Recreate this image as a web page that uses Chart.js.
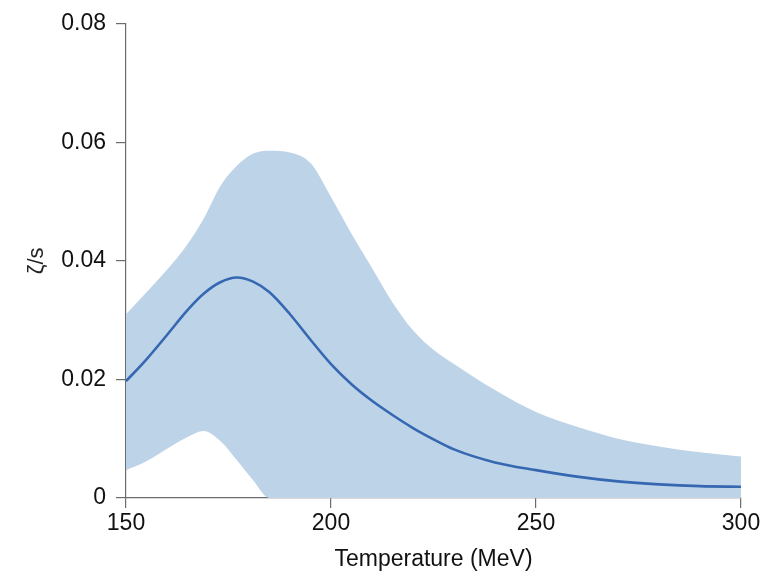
<!DOCTYPE html>
<html>
<head>
<meta charset="utf-8">
<script src="https://cdn.jsdelivr.net/npm/chart.js@4"></script>
<style>
  html, body { margin: 0; padding: 0; background: #fff; }
  #wrap { width: 768px; height: 574px; }
</style>
</head>
<body>
<div id="wrap"><canvas id="zetaChart" width="768" height="574"></canvas></div>
<script>
// Bulk viscosity over entropy vs temperature, with the credible band
const temps = [150, 155, 160, 165, 169, 173, 177, 181, 185, 190, 195, 200, 205, 210, 215, 220, 225, 230, 240, 250, 260, 270, 280, 290, 300];
const median = [0.0197, 0.0234, 0.0275, 0.0317, 0.0345, 0.0364, 0.0372, 0.0365, 0.0347, 0.0310, 0.0267, 0.0226, 0.0192, 0.0164, 0.0140, 0.0118, 0.0099, 0.0082, 0.0060, 0.0047, 0.0036, 0.0028, 0.0023, 0.0020, 0.0019];
const bandHigh = [0.0310, 0.0347, 0.0385, 0.0428, 0.0472, 0.0526, 0.0560, 0.0581, 0.0586, 0.0583, 0.0565, 0.0508, 0.0446, 0.0388, 0.0330, 0.0283, 0.0250, 0.0226, 0.0182, 0.0145, 0.0120, 0.0100, 0.0087, 0.0077, 0.0070];
const bandLow = [0.0047, 0.0062, 0.0083, 0.0103, 0.0113, 0.0096, 0.0064, 0.0030, 0, 0, 0, 0, 0, 0, 0, 0, 0, 0, 0, 0, 0, 0, 0, 0, 0];
const xTicks = [150, 200, 250, 300];
const yTicks = [0, 0.02, 0.04, 0.06, 0.08];

const toPoints = vals => vals.map((v, i) => ({ x: temps[i], y: v }));

const axisColor = '#6b6b6b';
const fontFamily = '"Liberation Sans", Arial, Helvetica, sans-serif';

const ctx = document.getElementById('zetaChart').getContext('2d');
new Chart(ctx, {
  type: 'line',
  data: {
    datasets: [
      {
        // lower edge of the band, only used as fill target
        data: toPoints(bandLow),
        order: 2,
        borderWidth: 0,
        pointRadius: 0,
        fill: false,
        cubicInterpolationMode: 'monotone'
      },
      {
        data: toPoints(bandHigh),
        order: 1,
        borderWidth: 0,
        pointRadius: 0,
        backgroundColor: 'rgb(189, 211, 232)',
        fill: '-1',
        cubicInterpolationMode: 'monotone'
      },
      {
        data: toPoints(median),
        order: 0,
        borderColor: 'rgb(54, 104, 178)',
        borderWidth: 2.6,
        pointRadius: 0,
        fill: false,
        cubicInterpolationMode: 'monotone'
      }
    ]
  },
  options: {
    responsive: false,
    animation: false,
    layout: { padding: { top: 20, right: 27, bottom: 0, left: 0 } },
    plugins: {
      legend: { display: false },
      tooltip: { enabled: false }
    },
    scales: {
      x: {
        type: 'linear',
        min: 150,
        max: 300,
        afterBuildTicks: s => { s.ticks = xTicks.map(v => ({ value: v })); },
        afterFit: s => { s.height = 76; },
        grid: { drawOnChartArea: false, drawTicks: true, tickLength: 10, color: axisColor, lineWidth: 1.2 },
        border: { color: axisColor, width: 1.2 },
        ticks: { color: '#111', padding: 2, maxRotation: 0, font: { family: fontFamily, size: 23 } },
        title: {
          display: true,
          text: 'Temperature (MeV)',
          color: '#111',
          font: { family: fontFamily, size: 23 },
          padding: { top: 0, bottom: 1 }
        }
      },
      y: {
        min: 0,
        max: 0.08,
        afterBuildTicks: s => { s.ticks = yTicks.map(v => ({ value: v })); },
        afterFit: s => { s.width = 126; },
        grid: { drawOnChartArea: false, drawTicks: true, tickLength: 10, color: axisColor, lineWidth: 1.2 },
        border: { color: axisColor, width: 1.2 },
        ticks: {
          color: '#111',
          padding: 10,
          font: { family: fontFamily, size: 23 },
          callback: v => v === 0 ? '0' : v.toFixed(2)
        },
        title: {
          display: true,
          text: 'ζ/s',
          color: '#222',
          font: { family: fontFamily, size: 22 },
          padding: { top: 24, bottom: 0 }
        }
      }
    }
  }
});
</script>
</body>
</html>
